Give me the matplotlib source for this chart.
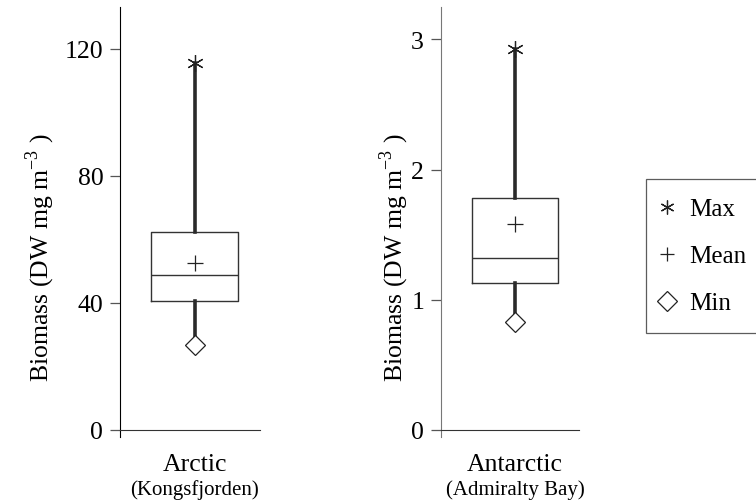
import numpy as np
import matplotlib
matplotlib.use("Agg")
import matplotlib.pyplot as plt
import matplotlib.transforms as mtransforms

plt.rcParams['font.family'] = ['Liberation Serif', 'DejaVu Serif']
plt.rcParams['mathtext.fontset'] = 'custom'
plt.rcParams['mathtext.rm'] = 'Liberation Serif'

# data
regions = ["Arctic", "Antarctic"]
sites = ["(Kongsfjorden)", "(Admiralty Bay)"]
bmax = [115.6, 2.93]
q3 = [62.4, 1.78]
mean = [52.5, 1.58]
median = [48.6, 1.32]
q1 = [40.4, 1.13]
bmin = [26.8, 0.83]
yticks = [[0, 40, 80, 120], [0, 1, 2, 3]]
ylims = [(-2.3, 133.1), (-0.056, 3.25)]

fig = plt.figure(figsize=(7.56, 5.02), dpi=100)
axes = [fig.add_axes([0.1587, 0.1275, 0.1852, 0.8566]),
        fig.add_axes([0.5830, 0.1275, 0.1833, 0.8566])]
spine_col = ['black', '#777777']
label_x = [-0.45, -0.218]

for i, ax in enumerate(axes):
    pos = 0.535
    stats = [dict(med=median[i], q1=q1[i], q3=q3[i], whislo=bmin[i],
                  whishi=bmax[i], mean=mean[i])]
    ax.bxp(stats, positions=[pos], widths=0.62, showcaps=False,
           showfliers=False, showmeans=False,
           boxprops=dict(color='#333333', linewidth=1.0),
           medianprops=dict(color='#333333', linewidth=1.0),
           whiskerprops=dict(color='#2a2a2a', linewidth=2.6))
    ax.plot([pos], [mean[i]], marker='+', color='#222222', markersize=11,
            markeredgewidth=0.9, linestyle='none')
    ax.plot([pos], [bmax[i]], marker=(6, 2, 0), color='#222222', markersize=12,
            markeredgewidth=0.9, linestyle='none')
    ax.plot([pos], [bmin[i]], marker='D', markerfacecolor='white',
            markeredgecolor='#222222', markersize=10, markeredgewidth=0.9,
            linestyle='none')

    ax.set_xlim(0, 1)
    ax.set_ylim(*ylims[i])
    ax.set_yticks(yticks[i])
    ax.spines['top'].set_visible(False)
    ax.spines['right'].set_visible(False)
    ax.spines['bottom'].set_position(('data', 0))
    ax.spines['left'].set_color(spine_col[i])
    ax.spines['bottom'].set_color('#333333')
    ax.tick_params(axis='y', direction='out', length=7, width=0.9,
                   color='#555555', labelsize=18.5, pad=5)
    ax.set_xticks([pos])
    ax.set_xticklabels([regions[i]], fontsize=18.5)
    ax.tick_params(axis='x', length=0, pad=17)
    trans = mtransforms.blended_transform_factory(ax.transData, fig.transFigure)
    ax.text(pos, 1 - 490 / 502, sites[i], transform=trans, ha='center',
            va='center', fontsize=15)
    ax.set_ylabel('Biomass (DW mg m$^{\\mathregular{-3}}$ )', fontsize=18.5)
    ax.yaxis.set_label_coords(label_x[i], 0.42)
    ax.patch.set_alpha(0)

# legend with markers only
h1, = axes[0].plot([], [], marker=(6, 2, 0), color='#222222', markersize=10,
                   markeredgewidth=0.9, linestyle='none')
h2, = axes[0].plot([], [], marker='+', color='#222222', markersize=10,
                   markeredgewidth=0.9, linestyle='none')
h3, = axes[0].plot([], [], marker='D', markerfacecolor='white',
                   markeredgecolor='#222222', markersize=10,
                   markeredgewidth=0.9, linestyle='none')
leg = fig.legend([h1, h2, h3], ["Max", "Mean", "Min"], loc='upper left',
                 bbox_to_anchor=(646 / 756, 1 - 180 / 502, 0.25, 0.0),
                 mode='expand', borderaxespad=0, fontsize=18,
                 labelspacing=0.98, handlelength=0.18, handletextpad=0.79,
                 borderpad=0.75, fancybox=False, frameon=True)
leg.get_frame().set_edgecolor('#333333')
leg.get_frame().set_linewidth(0.9)

fig.savefig("out.png", dpi=100)
